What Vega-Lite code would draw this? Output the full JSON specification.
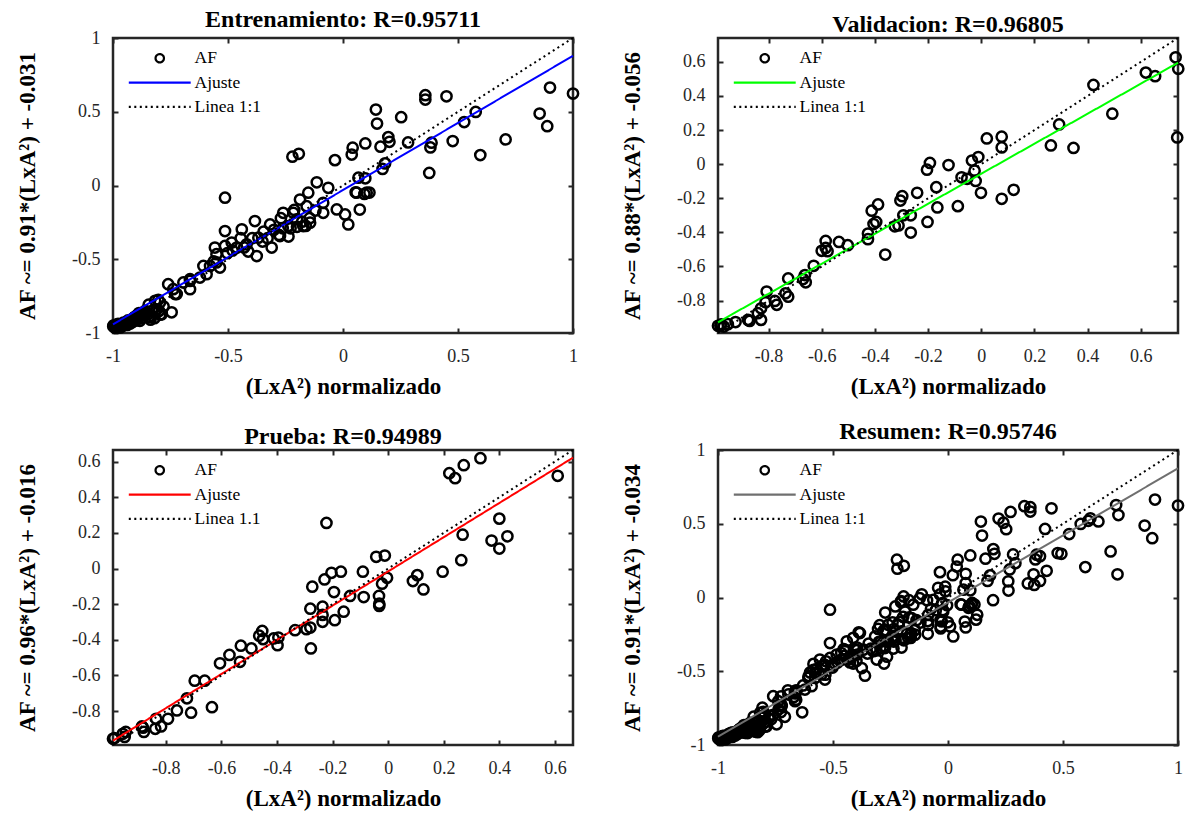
{
"$schema": "https://vega.github.io/schema/vega-lite/v6.json",
"background": "white",
"padding": {"left": 15, "top": 6, "right": 5, "bottom": 5},
"bounds": "flush",
"columns": 2,
"spacing": {"row": 117, "column": 145},
"config": {
  "view": {"stroke": "#262626", "strokeWidth": 2.5},
  "font": "Liberation Serif",
  "title": {"font": "Liberation Serif", "fontSize": 24, "fontWeight": "bold", "color": "#000000", "offset": -3, "anchor": "middle"},
  "axis": {"labelFont": "Liberation Serif", "labelFontSize": 18, "labelColor": "#262626", "titleFont": "Liberation Serif", "titleFontSize": 23, "titleFontWeight": "bold", "titleColor": "#000000", "grid": false, "domain": false, "tickColor": "#262626", "tickWidth": 2, "tickSize": 5, "offset": -5, "labelFlush": false, "labelOverlap": false, "labelBound": false},
  "axisBottom": {"labelPadding": 14, "titlePadding": 10},
  "axisLeft": {"labelPadding": 13, "titlePadding": 32},
  "legend": {"labelFont": "Liberation Serif", "labelFontSize": 17.5, "labelColor": "#000000", "symbolSize": 70, "symbolStrokeWidth": 2.2, "labelOffset": 26, "rowPadding": 5.3, "padding": 0}
},
"resolve": {"scale": {"x": "independent", "y": "independent", "color": "independent", "shape": "independent", "strokeDash": "independent"}, "legend": {"color": "independent", "shape": "independent", "strokeDash": "independent"}},
"datasets": {
"pts": [
{"s":"E","x":1.0,"y":0.623},{"s":"E","x":0.9,"y":0.664},{"s":"E","x":0.855,"y":0.488},{"s":"E","x":0.888,"y":0.402},{"s":"E","x":0.707,"y":0.312},{"s":"E","x":0.597,"y":0.206},{"s":"E","x":0.577,"y":0.499},{"s":"E","x":0.527,"y":0.43},{"s":"E","x":0.477,"y":0.301},{"s":"E","x":0.45,"y":0.605},
{"s":"E","x":0.358,"y":0.612},{"s":"E","x":0.358,"y":0.583},{"s":"E","x":0.385,"y":0.29},{"s":"E","x":0.38,"y":0.258},{"s":"E","x":0.375,"y":0.085},{"s":"E","x":0.283,"y":0.292},{"s":"E","x":0.253,"y":0.463},{"s":"E","x":0.143,"y":0.515},{"s":"E","x":0.148,"y":0.42},{"s":"E","x":0.197,"y":0.328},
{"s":"E","x":0.202,"y":0.296},{"s":"E","x":0.163,"y":0.263},{"s":"E","x":0.183,"y":0.15},{"s":"E","x":0.172,"y":0.112},{"s":"E","x":0.097,"y":0.285},{"s":"E","x":0.042,"y":0.256},{"s":"E","x":0.038,"y":0.21},{"s":"E","x":-0.035,"y":0.172},{"s":"E","x":-0.22,"y":0.195},{"s":"E","x":-0.192,"y":0.215},
{"s":"E","x":0.067,"y":0.053},{"s":"E","x":0.097,"y":0.049},{"s":"E","x":0.055,"y":-0.046},{"s":"E","x":0.093,"y":-0.057},{"s":"E","x":0.115,"y":-0.048},{"s":"E","x":0.073,"y":-0.163},{"s":"E","x":-0.114,"y":0.022},{"s":"E","x":-0.064,"y":-0.016},{"s":"E","x":-0.513,"y":-0.083},{"s":"E","x":-0.151,"y":-0.049},
{"s":"E","x":-0.187,"y":-0.095},{"s":"E","x":-0.086,"y":-0.117},{"s":"E","x":-0.086,"y":-0.185},{"s":"E","x":-0.027,"y":-0.162},{"s":"E","x":0.009,"y":-0.196},{"s":"E","x":0.023,"y":-0.264},{"s":"E","x":-0.158,"y":-0.14},{"s":"E","x":-0.216,"y":-0.185},{"s":"E","x":-0.26,"y":-0.185},{"s":"E","x":-0.238,"y":-0.275},
{"s":"E","x":-0.173,"y":-0.275},{"s":"E","x":-0.143,"y":-0.252},{"s":"E","x":-0.274,"y":-0.343},{"s":"E","x":-0.317,"y":-0.264},{"s":"E","x":-0.31,"y":-0.421},{"s":"E","x":-0.383,"y":-0.241},{"s":"E","x":-0.44,"y":-0.297},{"s":"E","x":-0.513,"y":-0.309},{"s":"E","x":-0.375,"y":-0.478},{"s":"E","x":-0.368,"y":-0.354},
{"s":"E","x":-0.419,"y":-0.399},{"s":"E","x":-0.462,"y":-0.421},{"s":"E","x":-0.484,"y":-0.387},{"s":"E","x":-0.513,"y":-0.41},{"s":"E","x":-0.557,"y":-0.421},{"s":"E","x":-0.55,"y":-0.466},{"s":"E","x":-0.178,"y":-0.245},{"s":"E","x":-0.162,"y":-0.274},{"s":"E","x":-0.228,"y":-0.29},{"s":"E","x":-0.278,"y":-0.335},
{"s":"E","x":-0.345,"y":-0.312},{"s":"E","x":-0.328,"y":-0.357},{"s":"E","x":-0.395,"y":-0.357},{"s":"E","x":-0.445,"y":-0.357},{"s":"E","x":-0.412,"y":-0.448},{"s":"E","x":-0.503,"y":-0.459},{"s":"E","x":-0.562,"y":-0.515},{"s":"E","x":-0.212,"y":-0.166},{"s":"E","x":-0.145,"y":-0.222},{"s":"E","x":-0.27,"y":-0.222},
{"s":"E","x":-0.262,"y":-0.29},{"s":"E","x":-0.237,"y":-0.346},{"s":"E","x":0.059,"y":-0.049},{"s":"E","x":0.103,"y":-0.049},{"s":"E","x":-0.2,"y":-0.23},{"s":"E","x":-0.3,"y":-0.3},{"s":"E","x":-0.35,"y":-0.38},{"s":"E","x":-0.43,"y":-0.42},{"s":"E","x":-0.48,"y":-0.44},{"s":"E","x":-0.12,"y":-0.17},
{"s":"E","x":-0.2,"y":-0.28},{"s":"E","x":-0.607,"y":-0.545},{"s":"E","x":-0.593,"y":-0.601},{"s":"E","x":-0.535,"y":-0.556},{"s":"E","x":-0.578,"y":-0.545},{"s":"E","x":-0.55,"y":-0.522},{"s":"E","x":-0.622,"y":-0.624},{"s":"E","x":-0.665,"y":-0.635},{"s":"E","x":-0.694,"y":-0.657},{"s":"E","x":-0.665,"y":-0.703},
{"s":"E","x":-0.665,"y":-0.647},{"s":"E","x":-0.738,"y":-0.703},{"s":"E","x":-0.723,"y":-0.736},{"s":"E","x":-0.76,"y":-0.669},{"s":"E","x":-0.73,"y":-0.736},{"s":"E","x":-0.745,"y":-0.86},{"s":"E","x":-0.788,"y":-0.872},{"s":"E","x":-0.839,"y":-0.894},{"s":"E","x":-0.796,"y":-0.793},{"s":"E","x":-0.817,"y":-0.782},
{"s":"E","x":-0.803,"y":-0.775},{"s":"E","x":-0.795,"y":-0.876},{"s":"E","x":-0.845,"y":-0.808},{"s":"E","x":-0.837,"y":-0.91},{"s":"E","x":-0.887,"y":-0.865},{"s":"E","x":-0.912,"y":-0.9},{"s":"E","x":-0.883,"y":-0.917},{"s":"E","x":-0.926,"y":-0.928},{"s":"E","x":-0.945,"y":-0.932},{"s":"E","x":-0.97,"y":-0.946},
{"s":"E","x":-0.999,"y":-0.955},{"s":"E","x":-0.99,"y":-0.955},{"s":"E","x":-0.98,"y":-0.95},{"s":"E","x":-0.975,"y":-0.96},{"s":"E","x":-0.96,"y":-0.94},{"s":"E","x":-0.95,"y":-0.945},{"s":"E","x":-0.94,"y":-0.93},{"s":"E","x":-0.93,"y":-0.92},{"s":"E","x":-0.92,"y":-0.915},{"s":"E","x":-0.91,"y":-0.91},
{"s":"E","x":-0.9,"y":-0.9},{"s":"E","x":-0.89,"y":-0.895},{"s":"E","x":-0.87,"y":-0.88},{"s":"E","x":-0.86,"y":-0.87},{"s":"E","x":-0.85,"y":-0.875},{"s":"E","x":-0.82,"y":-0.86},{"s":"E","x":-0.81,"y":-0.84},{"s":"E","x":-0.78,"y":-0.82},{"s":"E","x":-0.995,"y":-0.96},{"s":"E","x":-0.985,"y":-0.962},
{"s":"E","x":-0.965,"y":-0.955},{"s":"E","x":-0.955,"y":-0.93},{"s":"E","x":-0.935,"y":-0.915},{"s":"E","x":-0.905,"y":-0.89},{"s":"E","x":-0.88,"y":-0.885},{"s":"E","x":-0.86,"y":-0.85},
{"s":"E","x":-0.997,"y":-0.948},{"s":"E","x":-0.992,"y":-0.962},{"s":"E","x":-0.988,"y":-0.945},{"s":"E","x":-0.978,"y":-0.938},{"s":"E","x":-0.968,"y":-0.962},{"s":"E","x":-0.958,"y":-0.95},{"s":"E","x":-0.948,"y":-0.935},{"s":"E","x":-0.938,"y":-0.945},{"s":"E","x":-0.925,"y":-0.935},{"s":"E","x":-0.915,"y":-0.925},
{"s":"E","x":-0.9,"y":-0.915},{"s":"E","x":-0.895,"y":-0.88},{"s":"E","x":-0.875,"y":-0.9},{"s":"E","x":-0.865,"y":-0.86},{"s":"E","x":-0.845,"y":-0.89},{"s":"E","x":-0.83,"y":-0.85},{"s":"E","x":-0.82,"y":-0.9},{"s":"E","x":-0.8,"y":-0.85},
{"s":"V","x":0.731,"y":0.627},{"s":"V","x":0.741,"y":0.559},{"s":"V","x":0.619,"y":0.537},{"s":"V","x":0.654,"y":0.516},{"s":"V","x":0.422,"y":0.465},{"s":"V","x":0.493,"y":0.296},{"s":"V","x":0.737,"y":0.157},{"s":"V","x":0.293,"y":0.233},{"s":"V","x":0.262,"y":0.11},{"s":"V","x":0.347,"y":0.095},
{"s":"V","x":0.077,"y":0.161},{"s":"V","x":0.077,"y":0.098},{"s":"V","x":0.021,"y":0.151},{"s":"V","x":0.077,"y":-0.203},{"s":"V","x":0.122,"y":-0.15},{"s":"V","x":-0.001,"y":-0.168},{"s":"V","x":-0.021,"y":-0.098},{"s":"V","x":-0.011,"y":0.042},{"s":"V","x":-0.035,"y":0.021},{"s":"V","x":-0.025,"y":-0.038},
{"s":"V","x":-0.074,"y":-0.077},{"s":"V","x":-0.053,"y":-0.086},{"s":"V","x":-0.123,"y":-0.005},{"s":"V","x":-0.193,"y":0.007},{"s":"V","x":-0.204,"y":-0.032},{"s":"V","x":-0.169,"y":-0.135},{"s":"V","x":-0.165,"y":-0.254},{"s":"V","x":-0.088,"y":-0.246},{"s":"V","x":-0.241,"y":-0.168},{"s":"V","x":-0.202,"y":-0.339},
{"s":"V","x":-0.297,"y":-0.188},{"s":"V","x":-0.304,"y":-0.213},{"s":"V","x":-0.293,"y":-0.3},{"s":"V","x":-0.265,"y":-0.3},{"s":"V","x":-0.311,"y":-0.359},{"s":"V","x":-0.325,"y":-0.364},{"s":"V","x":-0.265,"y":-0.401},{"s":"V","x":-0.388,"y":-0.236},{"s":"V","x":-0.412,"y":-0.273},{"s":"V","x":-0.395,"y":-0.339},
{"s":"V","x":-0.405,"y":-0.351},{"s":"V","x":-0.426,"y":-0.407},{"s":"V","x":-0.426,"y":-0.44},{"s":"V","x":-0.361,"y":-0.53},{"s":"V","x":-0.585,"y":-0.45},{"s":"V","x":-0.535,"y":-0.456},{"s":"V","x":-0.502,"y":-0.475},{"s":"V","x":-0.585,"y":-0.491},{"s":"V","x":-0.6,"y":-0.508},{"s":"V","x":-0.578,"y":-0.51},
{"s":"V","x":-0.63,"y":-0.596},{"s":"V","x":-0.663,"y":-0.65},{"s":"V","x":-0.67,"y":-0.674},{"s":"V","x":-0.66,"y":-0.693},{"s":"V","x":-0.726,"y":-0.67},{"s":"V","x":-0.736,"y":-0.757},{"s":"V","x":-0.726,"y":-0.777},{"s":"V","x":-0.807,"y":-0.747},{"s":"V","x":-0.811,"y":-0.81},{"s":"V","x":-0.776,"y":-0.802},
{"s":"V","x":-0.769,"y":-0.825},{"s":"V","x":-0.828,"y":-0.845},{"s":"V","x":-0.84,"y":-0.874},{"s":"V","x":-0.828,"y":-0.913},{"s":"V","x":-0.877,"y":-0.913},{"s":"V","x":-0.871,"y":-0.919},{"s":"V","x":-0.924,"y":-0.926},{"s":"V","x":-0.953,"y":-0.938},{"s":"V","x":-0.981,"y":-0.946},{"s":"V","x":-0.99,"y":-0.948},
{"s":"V","x":-0.968,"y":-0.952},{"s":"V","x":-0.978,"y":-0.94},
{"s":"P","x":0.61,"y":0.52},{"s":"P","x":0.332,"y":0.619},{"s":"P","x":0.272,"y":0.58},{"s":"P","x":0.22,"y":0.535},{"s":"P","x":0.241,"y":0.507},{"s":"P","x":-0.222,"y":0.256},{"s":"P","x":0.4,"y":0.28},{"s":"P","x":0.268,"y":0.19},{"s":"P","x":0.429,"y":0.181},{"s":"P","x":0.372,"y":0.157},
{"s":"P","x":0.4,"y":0.112},{"s":"P","x":0.263,"y":0.047},{"s":"P","x":0.196,"y":-0.018},{"s":"P","x":0.105,"y":-0.037},{"s":"P","x":0.089,"y":-0.07},{"s":"P","x":0.127,"y":-0.117},{"s":"P","x":-0.043,"y":0.066},{"s":"P","x":-0.012,"y":0.073},{"s":"P","x":-0.004,"y":-0.052},{"s":"P","x":-0.022,"y":-0.085},
{"s":"P","x":-0.033,"y":-0.154},{"s":"P","x":-0.032,"y":-0.197},{"s":"P","x":-0.032,"y":-0.21},{"s":"P","x":-0.091,"y":-0.018},{"s":"P","x":-0.088,"y":-0.16},{"s":"P","x":-0.17,"y":-0.018},{"s":"P","x":-0.204,"y":-0.024},{"s":"P","x":-0.229,"y":-0.061},{"s":"P","x":-0.273,"y":-0.102},{"s":"P","x":-0.195,"y":-0.132},
{"s":"P","x":-0.137,"y":-0.154},{"s":"P","x":-0.16,"y":-0.242},{"s":"P","x":-0.236,"y":-0.214},{"s":"P","x":-0.236,"y":-0.26},{"s":"P","x":-0.236,"y":-0.299},{"s":"P","x":-0.192,"y":-0.29},{"s":"P","x":-0.28,"y":-0.225},{"s":"P","x":-0.28,"y":-0.331},{"s":"P","x":-0.294,"y":-0.34},{"s":"P","x":-0.278,"y":-0.448},
{"s":"P","x":-0.335,"y":-0.346},{"s":"P","x":-0.453,"y":-0.35},{"s":"P","x":-0.464,"y":-0.377},{"s":"P","x":-0.45,"y":-0.396},{"s":"P","x":-0.412,"y":-0.392},{"s":"P","x":-0.398,"y":-0.43},{"s":"P","x":-0.395,"y":-0.387},{"s":"P","x":-0.492,"y":-0.448},{"s":"P","x":-0.53,"y":-0.433},{"s":"P","x":-0.533,"y":-0.523},
{"s":"P","x":-0.571,"y":-0.485},{"s":"P","x":-0.605,"y":-0.532},{"s":"P","x":-0.66,"y":-0.629},{"s":"P","x":-0.696,"y":-0.629},{"s":"P","x":-0.724,"y":-0.728},{"s":"P","x":-0.709,"y":-0.809},{"s":"P","x":-0.76,"y":-0.796},{"s":"P","x":-0.634,"y":-0.778},{"s":"P","x":-0.792,"y":-0.843},{"s":"P","x":-0.835,"y":-0.843},
{"s":"P","x":-0.817,"y":-0.886},{"s":"P","x":-0.838,"y":-0.899},{"s":"P","x":-0.882,"y":-0.893},{"s":"P","x":-0.879,"y":-0.917},{"s":"P","x":-0.886,"y":-0.886},{"s":"P","x":-0.944,"y":-0.917},{"s":"P","x":-0.948,"y":-0.945},{"s":"P","x":-0.955,"y":-0.927},{"s":"P","x":-0.985,"y":-0.951},{"s":"P","x":-0.99,"y":-0.955}
],
"lines": [
{"p":"E","k":"fit","x":-1,"y":-0.941},{"p":"E","k":"fit","x":1,"y":0.879},
{"p":"E","k":"one","x":-1,"y":-1},{"p":"E","k":"one","x":1,"y":1},
{"p":"V","k":"fit","x":-0.99,"y":-0.927},{"p":"V","k":"fit","x":0.74,"y":0.595},
{"p":"V","k":"one","x":-0.99,"y":-0.99},{"p":"V","k":"one","x":0.74,"y":0.74},
{"p":"P","k":"fit","x":-0.99,"y":-0.966},{"p":"P","k":"fit","x":0.665,"y":0.622},
{"p":"P","k":"one","x":-0.99,"y":-0.99},{"p":"P","k":"one","x":0.665,"y":0.665},
{"p":"R","k":"fit","x":-1,"y":-0.944},{"p":"R","k":"fit","x":1,"y":0.876},
{"p":"R","k":"one","x":-1,"y":-1},{"p":"R","k":"one","x":1,"y":1}
]
},
"concat": [
{
 "width": 460, "height": 295,
 "title": "Entrenamiento: R=0.95711",
 "layer": [
  {"data": {"name": "pts"}, "transform": [{"filter": "datum.s === 'E'"}],
   "mark": {"type": "point", "filled": false, "strokeWidth": 2.5, "size": 105, "opacity": 1},
   "encoding": {
    "x": {"field": "x", "type": "quantitative", "scale": {"domain": [-1, 1], "nice": false, "zero": false}, "axis": {"orient": "bottom", "values": [-1, -0.5, 0, 0.5, 1], "labelExpr": "'' + datum.value", "title": "(LxA²) normalizado"}},
    "y": {"field": "y", "type": "quantitative", "scale": {"domain": [-1, 1], "nice": false, "zero": false}, "axis": {"orient": "left", "values": [-1, -0.5, 0, 0.5, 1], "labelExpr": "'' + datum.value", "title": "AF ~= 0.91*(LxA²) + -0.031"}},
    "color": {"datum": "AF", "type": "nominal", "scale": {"domain": ["AF", "Ajuste", "Linea 1:1"], "range": ["#000000", "#0000ff", "#000000"]}, "legend": {"title": null, "orient": "none", "legendX": 38, "legendY": 11.5, "symbolFillColor": "transparent"}},
    "shape": {"datum": "AF", "type": "nominal", "scale": {"domain": ["AF", "Ajuste", "Linea 1:1"], "range": ["circle", "M-7.4,0H7.4", "M-7.4,0H7.4"]}, "legend": {"title": null, "orient": "none", "legendX": 38, "legendY": 11.5, "symbolFillColor": "transparent"}}
   }},
  {"data": {"name": "lines"}, "transform": [{"filter": "datum.p === 'E' && datum.k === 'fit'"}],
   "mark": {"type": "line", "strokeWidth": 2},
   "encoding": {
    "x": {"field": "x", "type": "quantitative", "axis": {"orient": "top", "values": [-1, -0.5, 0, 0.5, 1], "labels": false, "title": null}},
    "y": {"field": "y", "type": "quantitative", "axis": {"orient": "right", "values": [-1, -0.5, 0, 0.5, 1], "labels": false, "title": null}},
    "color": {"datum": "Ajuste", "type": "nominal", "scale": {"domain": ["AF", "Ajuste", "Linea 1:1"], "range": ["#000000", "#0000ff", "#000000"]}, "legend": {"title": null, "orient": "none", "legendX": 38, "legendY": 11.5, "symbolFillColor": "transparent"}},
    "strokeDash": {"datum": "Ajuste", "type": "nominal", "scale": {"domain": ["AF", "Ajuste", "Linea 1:1"], "range": [[1, 0], [1, 0], [2, 3.5]]}, "legend": {"title": null, "orient": "none", "legendX": 38, "legendY": 11.5, "symbolFillColor": "transparent"}}
   }},
  {"data": {"name": "lines"}, "transform": [{"filter": "datum.p === 'E' && datum.k === 'one'"}],
   "mark": {"type": "line", "strokeWidth": 2},
   "encoding": {
    "x": {"field": "x", "type": "quantitative", "axis": null},
    "y": {"field": "y", "type": "quantitative", "axis": null},
    "color": {"datum": "Linea 1:1", "type": "nominal", "scale": {"domain": ["AF", "Ajuste", "Linea 1:1"], "range": ["#000000", "#0000ff", "#000000"]}, "legend": {"title": null, "orient": "none", "legendX": 38, "legendY": 11.5, "symbolFillColor": "transparent"}},
    "strokeDash": {"datum": "Linea 1:1", "type": "nominal", "scale": {"domain": ["AF", "Ajuste", "Linea 1:1"], "range": [[1, 0], [1, 0], [2, 3.5]]}, "legend": {"title": null, "orient": "none", "legendX": 38, "legendY": 11.5, "symbolFillColor": "transparent"}}
   }}
 ],
 "resolve": {"axis": {"x": "independent", "y": "independent"}}
},
{
 "width": 460, "height": 295,
 "title": "Validacion: R=0.96805",
 "layer": [
  {"data": {"name": "pts"}, "transform": [{"filter": "datum.s === 'V'"}],
   "mark": {"type": "point", "filled": false, "strokeWidth": 2.5, "size": 105, "opacity": 1},
   "encoding": {
    "x": {"field": "x", "type": "quantitative", "scale": {"domain": [-0.99, 0.74], "nice": false, "zero": false}, "axis": {"orient": "bottom", "values": [-0.8, -0.6, -0.4, -0.2, 0, 0.2, 0.4, 0.6], "labelExpr": "'' + datum.value", "title": "(LxA²) normalizado"}},
    "y": {"field": "y", "type": "quantitative", "scale": {"domain": [-0.99, 0.74], "nice": false, "zero": false}, "axis": {"orient": "left", "values": [-0.8, -0.6, -0.4, -0.2, 0, 0.2, 0.4, 0.6], "labelExpr": "'' + datum.value", "title": "AF ~= 0.88*(LxA²) + -0.056"}},
    "color": {"datum": "AF", "type": "nominal", "scale": {"domain": ["AF", "Ajuste", "Linea 1:1"], "range": ["#000000", "#00ff00", "#000000"]}, "legend": {"title": null, "orient": "none", "legendX": 38, "legendY": 11.5, "symbolFillColor": "transparent"}},
    "shape": {"datum": "AF", "type": "nominal", "scale": {"domain": ["AF", "Ajuste", "Linea 1:1"], "range": ["circle", "M-7.4,0H7.4", "M-7.4,0H7.4"]}, "legend": {"title": null, "orient": "none", "legendX": 38, "legendY": 11.5, "symbolFillColor": "transparent"}}
   }},
  {"data": {"name": "lines"}, "transform": [{"filter": "datum.p === 'V' && datum.k === 'fit'"}],
   "mark": {"type": "line", "strokeWidth": 2},
   "encoding": {
    "x": {"field": "x", "type": "quantitative", "axis": {"orient": "top", "values": [-0.8, -0.6, -0.4, -0.2, 0, 0.2, 0.4, 0.6], "labels": false, "title": null}},
    "y": {"field": "y", "type": "quantitative", "axis": {"orient": "right", "values": [-0.8, -0.6, -0.4, -0.2, 0, 0.2, 0.4, 0.6], "labels": false, "title": null}},
    "color": {"datum": "Ajuste", "type": "nominal", "scale": {"domain": ["AF", "Ajuste", "Linea 1:1"], "range": ["#000000", "#00ff00", "#000000"]}, "legend": {"title": null, "orient": "none", "legendX": 38, "legendY": 11.5, "symbolFillColor": "transparent"}},
    "strokeDash": {"datum": "Ajuste", "type": "nominal", "scale": {"domain": ["AF", "Ajuste", "Linea 1:1"], "range": [[1, 0], [1, 0], [2, 3.5]]}, "legend": {"title": null, "orient": "none", "legendX": 38, "legendY": 11.5, "symbolFillColor": "transparent"}}
   }},
  {"data": {"name": "lines"}, "transform": [{"filter": "datum.p === 'V' && datum.k === 'one'"}],
   "mark": {"type": "line", "strokeWidth": 2},
   "encoding": {
    "x": {"field": "x", "type": "quantitative", "axis": null},
    "y": {"field": "y", "type": "quantitative", "axis": null},
    "color": {"datum": "Linea 1:1", "type": "nominal", "scale": {"domain": ["AF", "Ajuste", "Linea 1:1"], "range": ["#000000", "#00ff00", "#000000"]}, "legend": {"title": null, "orient": "none", "legendX": 38, "legendY": 11.5, "symbolFillColor": "transparent"}},
    "strokeDash": {"datum": "Linea 1:1", "type": "nominal", "scale": {"domain": ["AF", "Ajuste", "Linea 1:1"], "range": [[1, 0], [1, 0], [2, 3.5]]}, "legend": {"title": null, "orient": "none", "legendX": 38, "legendY": 11.5, "symbolFillColor": "transparent"}}
   }}
 ],
 "resolve": {"axis": {"x": "independent", "y": "independent"}}
},
{
 "width": 460, "height": 295,
 "title": "Prueba: R=0.94989",
 "layer": [
  {"data": {"name": "pts"}, "transform": [{"filter": "datum.s === 'P'"}],
   "mark": {"type": "point", "filled": false, "strokeWidth": 2.5, "size": 105, "opacity": 1},
   "encoding": {
    "x": {"field": "x", "type": "quantitative", "scale": {"domain": [-0.99, 0.665], "nice": false, "zero": false}, "axis": {"orient": "bottom", "values": [-0.8, -0.6, -0.4, -0.2, 0, 0.2, 0.4, 0.6], "labelExpr": "'' + datum.value", "title": "(LxA²) normalizado"}},
    "y": {"field": "y", "type": "quantitative", "scale": {"domain": [-0.99, 0.665], "nice": false, "zero": false}, "axis": {"orient": "left", "values": [-0.8, -0.6, -0.4, -0.2, 0, 0.2, 0.4, 0.6], "labelExpr": "'' + datum.value", "title": "AF ~= 0.96*(LxA²) + -0.016"}},
    "color": {"datum": "AF", "type": "nominal", "scale": {"domain": ["AF", "Ajuste", "Linea 1.1"], "range": ["#000000", "#ff0000", "#000000"]}, "legend": {"title": null, "orient": "none", "legendX": 38, "legendY": 11.5, "symbolFillColor": "transparent"}},
    "shape": {"datum": "AF", "type": "nominal", "scale": {"domain": ["AF", "Ajuste", "Linea 1.1"], "range": ["circle", "M-7.4,0H7.4", "M-7.4,0H7.4"]}, "legend": {"title": null, "orient": "none", "legendX": 38, "legendY": 11.5, "symbolFillColor": "transparent"}}
   }},
  {"data": {"name": "lines"}, "transform": [{"filter": "datum.p === 'P' && datum.k === 'fit'"}],
   "mark": {"type": "line", "strokeWidth": 2},
   "encoding": {
    "x": {"field": "x", "type": "quantitative", "axis": {"orient": "top", "values": [-0.8, -0.6, -0.4, -0.2, 0, 0.2, 0.4, 0.6], "labels": false, "title": null}},
    "y": {"field": "y", "type": "quantitative", "axis": {"orient": "right", "values": [-0.8, -0.6, -0.4, -0.2, 0, 0.2, 0.4, 0.6], "labels": false, "title": null}},
    "color": {"datum": "Ajuste", "type": "nominal", "scale": {"domain": ["AF", "Ajuste", "Linea 1.1"], "range": ["#000000", "#ff0000", "#000000"]}, "legend": {"title": null, "orient": "none", "legendX": 38, "legendY": 11.5, "symbolFillColor": "transparent"}},
    "strokeDash": {"datum": "Ajuste", "type": "nominal", "scale": {"domain": ["AF", "Ajuste", "Linea 1.1"], "range": [[1, 0], [1, 0], [2, 3.5]]}, "legend": {"title": null, "orient": "none", "legendX": 38, "legendY": 11.5, "symbolFillColor": "transparent"}}
   }},
  {"data": {"name": "lines"}, "transform": [{"filter": "datum.p === 'P' && datum.k === 'one'"}],
   "mark": {"type": "line", "strokeWidth": 2},
   "encoding": {
    "x": {"field": "x", "type": "quantitative", "axis": null},
    "y": {"field": "y", "type": "quantitative", "axis": null},
    "color": {"datum": "Linea 1.1", "type": "nominal", "scale": {"domain": ["AF", "Ajuste", "Linea 1.1"], "range": ["#000000", "#ff0000", "#000000"]}, "legend": {"title": null, "orient": "none", "legendX": 38, "legendY": 11.5, "symbolFillColor": "transparent"}},
    "strokeDash": {"datum": "Linea 1.1", "type": "nominal", "scale": {"domain": ["AF", "Ajuste", "Linea 1.1"], "range": [[1, 0], [1, 0], [2, 3.5]]}, "legend": {"title": null, "orient": "none", "legendX": 38, "legendY": 11.5, "symbolFillColor": "transparent"}}
   }}
 ],
 "resolve": {"axis": {"x": "independent", "y": "independent"}}
},
{
 "width": 460, "height": 295,
 "title": "Resumen: R=0.95746",
 "layer": [
  {"data": {"name": "pts"},
   "mark": {"type": "point", "filled": false, "strokeWidth": 2.5, "size": 105, "opacity": 1},
   "encoding": {
    "x": {"field": "x", "type": "quantitative", "scale": {"domain": [-1, 1], "nice": false, "zero": false}, "axis": {"orient": "bottom", "values": [-1, -0.5, 0, 0.5, 1], "labelExpr": "'' + datum.value", "title": "(LxA²) normalizado"}},
    "y": {"field": "y", "type": "quantitative", "scale": {"domain": [-1, 1], "nice": false, "zero": false}, "axis": {"orient": "left", "values": [-1, -0.5, 0, 0.5, 1], "labelExpr": "'' + datum.value", "title": "AF ~= 0.91*(LxA²) + -0.034"}},
    "color": {"datum": "AF", "type": "nominal", "scale": {"domain": ["AF", "Ajuste", "Linea 1:1"], "range": ["#000000", "#6f6f6f", "#000000"]}, "legend": {"title": null, "orient": "none", "legendX": 38, "legendY": 11.5, "symbolFillColor": "transparent"}},
    "shape": {"datum": "AF", "type": "nominal", "scale": {"domain": ["AF", "Ajuste", "Linea 1:1"], "range": ["circle", "M-7.4,0H7.4", "M-7.4,0H7.4"]}, "legend": {"title": null, "orient": "none", "legendX": 38, "legendY": 11.5, "symbolFillColor": "transparent"}}
   }},
  {"data": {"name": "lines"}, "transform": [{"filter": "datum.p === 'R' && datum.k === 'fit'"}],
   "mark": {"type": "line", "strokeWidth": 2},
   "encoding": {
    "x": {"field": "x", "type": "quantitative", "axis": {"orient": "top", "values": [-1, -0.5, 0, 0.5, 1], "labels": false, "title": null}},
    "y": {"field": "y", "type": "quantitative", "axis": {"orient": "right", "values": [-1, -0.5, 0, 0.5, 1], "labels": false, "title": null}},
    "color": {"datum": "Ajuste", "type": "nominal", "scale": {"domain": ["AF", "Ajuste", "Linea 1:1"], "range": ["#000000", "#6f6f6f", "#000000"]}, "legend": {"title": null, "orient": "none", "legendX": 38, "legendY": 11.5, "symbolFillColor": "transparent"}},
    "strokeDash": {"datum": "Ajuste", "type": "nominal", "scale": {"domain": ["AF", "Ajuste", "Linea 1:1"], "range": [[1, 0], [1, 0], [2, 3.5]]}, "legend": {"title": null, "orient": "none", "legendX": 38, "legendY": 11.5, "symbolFillColor": "transparent"}}
   }},
  {"data": {"name": "lines"}, "transform": [{"filter": "datum.p === 'R' && datum.k === 'one'"}],
   "mark": {"type": "line", "strokeWidth": 2},
   "encoding": {
    "x": {"field": "x", "type": "quantitative", "axis": null},
    "y": {"field": "y", "type": "quantitative", "axis": null},
    "color": {"datum": "Linea 1:1", "type": "nominal", "scale": {"domain": ["AF", "Ajuste", "Linea 1:1"], "range": ["#000000", "#6f6f6f", "#000000"]}, "legend": {"title": null, "orient": "none", "legendX": 38, "legendY": 11.5, "symbolFillColor": "transparent"}},
    "strokeDash": {"datum": "Linea 1:1", "type": "nominal", "scale": {"domain": ["AF", "Ajuste", "Linea 1:1"], "range": [[1, 0], [1, 0], [2, 3.5]]}, "legend": {"title": null, "orient": "none", "legendX": 38, "legendY": 11.5, "symbolFillColor": "transparent"}}
   }}
 ],
 "resolve": {"axis": {"x": "independent", "y": "independent"}}
}
]
}
